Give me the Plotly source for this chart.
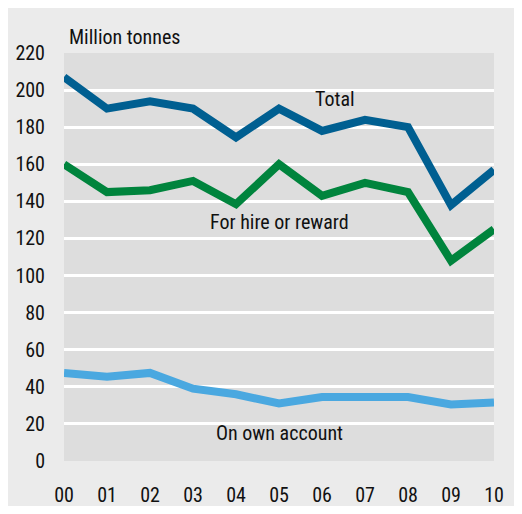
import plotly.graph_objects as go

years = ["00", "01", "02", "03", "04", "05", "06", "07", "08", "09", "10"]
total = [207, 190, 194, 190, 174.5, 190, 178, 184, 180, 138, 157]
hire = [160, 145, 146, 151, 138.5, 160, 143, 150, 145, 108, 125]
own = [47.5, 45.5, 47.5, 39, 36, 31, 34.5, 34, 34.5, 30.5, 31.5]

FONT = "Liberation Sans Narrow, Roboto Condensed, DejaVu Sans Condensed, sans-serif"
xs = list(range(len(years)))

fig = go.Figure()
fig.add_trace(go.Scatter(x=xs, y=own, mode="lines", line=dict(color="#4aa8e0", width=8)))
fig.add_trace(go.Scatter(x=xs, y=hire, mode="lines", line=dict(color="#00843d", width=8)))
fig.add_trace(go.Scatter(x=xs, y=total, mode="lines", line=dict(color="#005f91", width=8)))

# outer grey panel
fig.add_shape(type="rect", xref="paper", yref="paper", x0=-0.1302, x1=1.0558, y0=-0.1103, y1=1.1103,
              fillcolor="#ebebeb", line_width=0, layer="below")
# plot area
fig.add_shape(type="rect", xref="x", yref="y", x0=0, x1=10, y0=0, y1=220,
              fillcolor="#dddddd", line_width=0, layer="below")

fig.add_annotation(x=0, y=1.0, xref="paper", yref="paper", text="Million tonnes", showarrow=False,
                   xanchor="left", yanchor="bottom", xshift=3, yshift=2)
fig.add_annotation(x=6.3, y=195, text="Total", showarrow=False)
fig.add_annotation(x=5.0, y=129, text="For hire or reward", showarrow=False)
fig.add_annotation(x=5.0, y=15, text="On own account", showarrow=False)

fig.update_layout(
    width=514, height=506,
    margin=dict(l=56, r=28, t=45, b=53),
    paper_bgcolor="white", plot_bgcolor="rgba(0,0,0,0)",
    showlegend=False,
    font=dict(family=FONT, size=20, color="#111111"),
)
fig.update_xaxes(range=[0, 10], tickvals=xs, ticktext=years, showgrid=False, zeroline=False,
                 showline=False, ticks="outside", ticklen=16, tickcolor="rgba(0,0,0,0)",
                 automargin=False)
fig.update_yaxes(range=[0, 220], dtick=20, showgrid=True, gridcolor="white", gridwidth=2.5,
                 zeroline=False, showline=False, ticks="outside", ticklen=14, tickcolor="rgba(0,0,0,0)",
                 automargin=False)

fig.write_html("out.html")
